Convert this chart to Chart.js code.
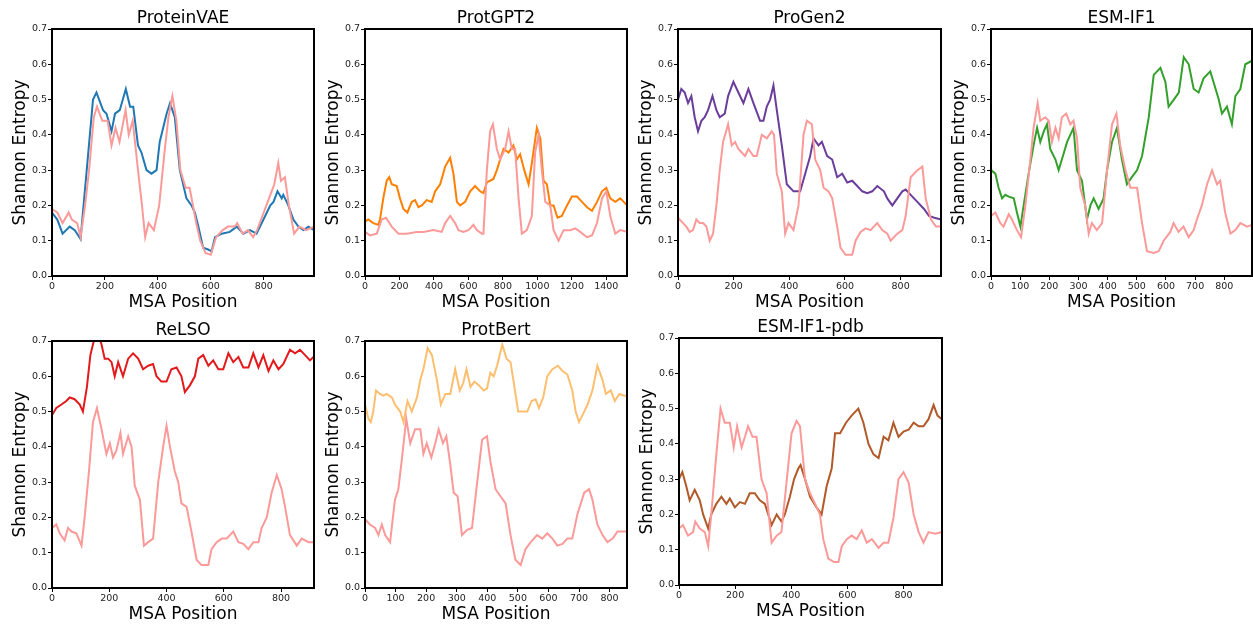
<!DOCTYPE html>
<html>
<head>
<meta charset="utf-8">
<script src="https://cdn.jsdelivr.net/npm/chart.js@4.4.1/dist/chart.umd.min.js"></script>
<style>
  body { margin: 0; background: #fff; }
  #fig { position: relative; width: 1253px; height: 628px; overflow: hidden; background: #fff; }
  #fig canvas { position: absolute; }
</style>
</head>
<body>
<div id="fig"></div>
<script>
// ProteinVAE
const vaePos = [0,20,40,67,86,108,130,155,168,193,206,225,238,256,279,295,307,325,338,357,376,395,407,433,446,464,483,508,527,540,553,571,590,603,616,641,672,698,723,748,773,799,825,837,852,868,874,893,912,931,950,969,990];
const vaeVals = [0.18,0.16,0.12,0.14,0.13,0.105,0.29,0.5,0.52,0.47,0.46,0.41,0.46,0.47,0.53,0.48,0.48,0.37,0.35,0.3,0.29,0.3,0.38,0.46,0.49,0.45,0.3,0.22,0.2,0.18,0.14,0.08,0.075,0.07,0.11,0.12,0.125,0.14,0.12,0.13,0.12,0.16,0.2,0.21,0.24,0.22,0.23,0.2,0.16,0.14,0.13,0.14,0.13];
const vaeRefPos = [0,20,40,63,75,95,108,125,140,158,170,190,210,225,240,255,278,290,305,325,340,352,365,385,405,425,440,455,470,485,505,520,545,560,580,600,620,645,665,690,700,720,740,760,775,795,820,840,855,865,880,895,915,935,960,990];
const vaeRefVals = [0.19,0.18,0.15,0.18,0.16,0.15,0.11,0.2,0.3,0.45,0.48,0.44,0.44,0.37,0.42,0.38,0.47,0.4,0.44,0.3,0.2,0.11,0.15,0.13,0.2,0.35,0.45,0.51,0.44,0.3,0.25,0.25,0.15,0.1,0.065,0.06,0.11,0.13,0.14,0.14,0.15,0.12,0.13,0.11,0.13,0.17,0.22,0.26,0.32,0.27,0.28,0.2,0.12,0.14,0.13,0.14];

// ProtGPT2
const gptPos = [0,19,48,77,87,106,126,141,155,184,203,223,246,271,290,310,329,358,387,407,436,465,494,513,533,552,581,610,639,668,687,707,745,765,784,804,833,861,881,900,924,949,968,997,1017,1036,1055,1075,1094,1117,1142,1172,1200,1230,1259,1288,1317,1346,1375,1400,1423,1452,1481,1501,1520];
const gptVals = [0.155,0.16,0.15,0.145,0.16,0.22,0.27,0.28,0.26,0.255,0.22,0.19,0.18,0.21,0.215,0.195,0.2,0.215,0.21,0.24,0.26,0.31,0.335,0.29,0.21,0.2,0.21,0.24,0.255,0.24,0.235,0.265,0.275,0.3,0.33,0.36,0.35,0.37,0.33,0.345,0.3,0.26,0.32,0.42,0.39,0.27,0.26,0.2,0.2,0.165,0.17,0.2,0.225,0.225,0.21,0.195,0.185,0.21,0.24,0.25,0.22,0.21,0.22,0.21,0.2];
const gptRefPos = [0,29,68,97,122,155,194,242,300,339,397,445,465,494,523,542,571,600,629,649,678,687,707,726,742,765,784,813,833,852,871,891,910,939,968,987,1007,1026,1046,1075,1094,1123,1152,1191,1220,1249,1288,1317,1346,1375,1400,1423,1452,1481,1520];
const gptRefVals = [0.125,0.115,0.12,0.16,0.165,0.14,0.12,0.12,0.125,0.125,0.13,0.125,0.15,0.17,0.15,0.13,0.125,0.13,0.145,0.13,0.12,0.12,0.3,0.41,0.43,0.36,0.33,0.36,0.41,0.36,0.36,0.22,0.12,0.13,0.17,0.35,0.4,0.3,0.21,0.2,0.13,0.1,0.13,0.13,0.135,0.125,0.11,0.115,0.15,0.22,0.24,0.17,0.12,0.13,0.125];

// ProGen2
const pgPos = [0,12,24,36,48,60,72,84,96,108,124,138,150,168,180,199,217,235,253,271,295,307,319,331,343,355,373,391,415,439,457,475,487,505,517,536,554,572,590,608,626,644,662,680,698,716,740,752,770,788,806,818,836,860,884,902,921,945];
const pgVals = [0.5,0.53,0.52,0.49,0.51,0.45,0.41,0.44,0.45,0.47,0.51,0.47,0.45,0.46,0.51,0.55,0.52,0.49,0.53,0.49,0.44,0.44,0.48,0.5,0.54,0.47,0.37,0.26,0.24,0.24,0.29,0.34,0.39,0.37,0.38,0.34,0.33,0.28,0.29,0.265,0.27,0.255,0.24,0.235,0.24,0.255,0.24,0.22,0.2,0.22,0.24,0.245,0.23,0.21,0.19,0.17,0.165,0.16];
const pgRefPos = [0,18,30,42,54,66,78,90,102,114,126,138,150,162,180,193,205,217,229,241,253,271,283,301,319,337,345,355,373,385,397,415,433,451,463,481,493,511,523,541,554,572,584,602,626,638,656,674,692,716,734,752,764,788,806,818,836,860,878,890,909,927,945];
const pgRefVals = [0.165,0.15,0.14,0.125,0.13,0.16,0.15,0.15,0.14,0.1,0.12,0.2,0.3,0.38,0.43,0.37,0.38,0.36,0.35,0.34,0.36,0.34,0.34,0.4,0.39,0.41,0.4,0.29,0.24,0.12,0.15,0.13,0.2,0.4,0.44,0.43,0.33,0.3,0.25,0.24,0.22,0.14,0.08,0.06,0.06,0.1,0.125,0.135,0.13,0.15,0.13,0.12,0.1,0.12,0.13,0.17,0.28,0.3,0.31,0.22,0.16,0.14,0.14];

// ESM-IF1
const esmPos = [0,15,26,38,49,61,78,89,101,112,129,146,158,169,181,192,203,221,232,243,261,272,283,295,312,329,341,352,369,386,398,415,432,449,466,483,501,518,541,558,581,598,609,627,644,661,678,695,712,729,752,763,781,792,809,826,838,855,872,895];
const esmVals = [0.3,0.29,0.25,0.22,0.23,0.225,0.22,0.18,0.14,0.2,0.29,0.37,0.42,0.38,0.41,0.43,0.36,0.33,0.3,0.33,0.38,0.4,0.42,0.3,0.27,0.16,0.2,0.22,0.19,0.22,0.3,0.38,0.42,0.33,0.26,0.28,0.3,0.34,0.45,0.57,0.59,0.55,0.48,0.5,0.52,0.62,0.6,0.53,0.52,0.56,0.58,0.55,0.5,0.46,0.48,0.43,0.51,0.53,0.6,0.61];
const esmRefPos = [0,15,32,43,61,72,89,103,118,135,146,160,169,186,198,209,221,232,243,258,272,283,295,306,323,335,346,363,381,398,415,430,443,461,478,501,518,535,558,575,592,615,626,643,660,678,695,706,723,741,758,775,786,803,821,838,855,878,895];
const esmRefVals = [0.17,0.18,0.15,0.14,0.175,0.16,0.13,0.11,0.2,0.33,0.42,0.49,0.44,0.45,0.44,0.38,0.42,0.39,0.45,0.46,0.43,0.44,0.39,0.25,0.2,0.12,0.15,0.13,0.15,0.3,0.43,0.46,0.37,0.3,0.25,0.25,0.15,0.07,0.065,0.07,0.1,0.125,0.15,0.125,0.14,0.11,0.13,0.16,0.2,0.26,0.3,0.26,0.27,0.18,0.12,0.13,0.15,0.14,0.145];

// ReLSO
const relsoPos = [0,15,33,50,62,79,97,108,122,134,146,161,173,184,196,208,219,231,248,266,283,301,318,336,353,365,382,400,417,435,452,464,482,499,511,528,546,563,581,598,616,633,651,668,686,703,721,738,756,773,791,808,831,849,866,884,901,913];
const relsoVals = [0.49,0.51,0.52,0.53,0.54,0.535,0.52,0.5,0.57,0.66,0.7,0.72,0.69,0.65,0.65,0.64,0.6,0.64,0.6,0.65,0.665,0.65,0.62,0.63,0.635,0.6,0.585,0.585,0.62,0.625,0.6,0.555,0.575,0.6,0.65,0.66,0.63,0.645,0.62,0.62,0.665,0.64,0.655,0.625,0.625,0.665,0.625,0.66,0.615,0.645,0.62,0.635,0.675,0.665,0.675,0.66,0.645,0.655];
const relsoRefPos = [0,15,27,44,56,68,85,103,114,129,143,157,173,190,202,213,225,239,248,266,278,289,307,321,336,353,371,388,400,412,429,441,452,470,487,505,522,546,557,575,593,610,633,651,668,686,703,721,732,750,767,785,802,814,831,855,872,896,913];
const relsoRefVals = [0.17,0.18,0.155,0.135,0.17,0.16,0.155,0.12,0.2,0.33,0.47,0.51,0.45,0.38,0.41,0.37,0.39,0.44,0.38,0.43,0.4,0.29,0.25,0.12,0.13,0.14,0.3,0.4,0.46,0.4,0.33,0.3,0.24,0.23,0.16,0.08,0.065,0.065,0.11,0.13,0.14,0.14,0.16,0.13,0.125,0.11,0.13,0.13,0.17,0.2,0.27,0.32,0.28,0.23,0.15,0.12,0.14,0.13,0.13];

// ProtBert
const bertPos = [0,11,19,27,36,49,60,71,88,98,115,126,139,153,170,181,191,205,219,235,248,263,279,295,310,321,332,345,358,372,388,399,410,421,432,449,463,476,487,501,514,531,545,558,569,583,596,613,631,646,662,678,689,700,717,728,744,760,777,788,804,817,832,848,859];
const bertVals = [0.52,0.48,0.47,0.5,0.56,0.55,0.545,0.55,0.54,0.52,0.5,0.47,0.53,0.5,0.54,0.59,0.62,0.68,0.66,0.59,0.52,0.55,0.55,0.62,0.56,0.58,0.62,0.57,0.585,0.575,0.56,0.565,0.61,0.6,0.63,0.69,0.65,0.64,0.58,0.5,0.5,0.5,0.53,0.535,0.51,0.54,0.6,0.62,0.63,0.615,0.605,0.56,0.5,0.47,0.5,0.52,0.56,0.63,0.59,0.55,0.56,0.53,0.55,0.545,0.545];
const bertRefPos = [0,16,33,44,55,66,82,98,109,120,135,148,164,181,191,202,217,230,241,255,266,279,290,303,317,334,350,367,383,399,410,427,443,460,476,492,509,525,542,563,580,596,613,629,646,662,678,695,717,733,744,760,777,793,810,826,842,859];
const bertRefVals = [0.195,0.18,0.17,0.15,0.18,0.15,0.13,0.25,0.28,0.36,0.48,0.41,0.45,0.45,0.38,0.41,0.37,0.41,0.45,0.41,0.43,0.35,0.27,0.26,0.15,0.165,0.17,0.3,0.42,0.43,0.36,0.28,0.26,0.24,0.15,0.08,0.065,0.11,0.13,0.15,0.14,0.155,0.14,0.12,0.125,0.14,0.14,0.21,0.27,0.28,0.25,0.18,0.15,0.13,0.14,0.16,0.16,0.16];

// ESM-IF1-pdb
const pdbPos = [0,12,26,38,56,74,86,104,115,133,151,169,181,199,217,235,252,270,288,306,318,330,348,365,377,395,410,425,433,449,467,490,508,526,544,556,574,595,615,639,657,675,693,711,729,746,764,782,800,818,836,854,871,889,907,921,937];
const pdbVals = [0.3,0.32,0.28,0.24,0.27,0.24,0.2,0.16,0.2,0.23,0.25,0.23,0.245,0.22,0.235,0.23,0.26,0.26,0.24,0.23,0.2,0.17,0.2,0.18,0.2,0.25,0.3,0.33,0.34,0.3,0.25,0.22,0.2,0.28,0.33,0.43,0.43,0.46,0.48,0.5,0.46,0.4,0.37,0.36,0.42,0.41,0.46,0.42,0.435,0.44,0.46,0.45,0.45,0.47,0.51,0.48,0.47];
const pdbRefPos = [0,14,32,50,58,74,92,104,115,133,148,163,181,195,207,223,235,246,262,276,294,312,330,348,365,383,401,419,431,449,467,485,502,514,532,552,568,580,598,615,633,651,669,687,711,729,746,764,782,800,818,836,854,871,889,913,937];
const pdbRefVals = [0.16,0.17,0.14,0.15,0.18,0.16,0.15,0.11,0.2,0.37,0.5,0.46,0.46,0.39,0.45,0.39,0.42,0.45,0.42,0.42,0.3,0.26,0.12,0.14,0.15,0.29,0.43,0.465,0.45,0.3,0.26,0.23,0.2,0.13,0.075,0.065,0.065,0.11,0.13,0.14,0.13,0.155,0.12,0.13,0.105,0.12,0.12,0.19,0.3,0.32,0.29,0.2,0.15,0.12,0.15,0.145,0.15];

const refColor = '#fb9a99';
const fontFamily = "'DejaVu Sans', sans-serif";

// plot box of each panel: [left, top, right, bottom]
const panels = [
    { title: 'ProteinVAE', color: '#1f78b4', pos: vaePos, vals: vaeVals, refPos: vaeRefPos, refVals: vaeRefVals, xMax: 990, xTicks: [0,200,400,600,800], box: [52, 29, 314, 276] },
    { title: 'ProtGPT2', color: '#ff7f00', pos: gptPos, vals: gptVals, refPos: gptRefPos, refVals: gptRefVals, xMax: 1520, xTicks: [0,200,400,600,800,1000,1200,1400], box: [365, 29, 627, 276] },
    { title: 'ProGen2', color: '#6a3d9a', pos: pgPos, vals: pgVals, refPos: pgRefPos, refVals: pgRefVals, xMax: 945, xTicks: [0,200,400,600,800], box: [678, 29, 941, 276] },
    { title: 'ESM-IF1', color: '#33a02c', pos: esmPos, vals: esmVals, refPos: esmRefPos, refVals: esmRefVals, xMax: 895, xTicks: [0,100,200,300,400,500,600,700,800], box: [991, 29, 1252, 276] },
    { title: 'ReLSO', color: '#e31a1c', pos: relsoPos, vals: relsoVals, refPos: relsoRefPos, refVals: relsoRefVals, xMax: 915, xTicks: [0,200,400,600,800], box: [52, 341, 314, 588] },
    { title: 'ProtBert', color: '#fdbf6f', pos: bertPos, vals: bertVals, refPos: bertRefPos, refVals: bertRefVals, xMax: 857, xTicks: [0,100,200,300,400,500,600,700,800], box: [365, 341, 627, 588] },
    { title: 'ESM-IF1-pdb', color: '#b15928', pos: pdbPos, vals: pdbVals, refPos: pdbRefPos, refVals: pdbRefVals, xMax: 937, xTicks: [0,200,400,600,800], box: [679, 338, 942, 585] }
];

const framePlugin = {
    id: 'frame',
    afterDatasetsDraw(chart) {
        const { ctx, chartArea: a } = chart;
        ctx.save();
        ctx.strokeStyle = '#000';
        ctx.lineWidth = 2;
        ctx.strokeRect(a.left, a.top, a.right - a.left, a.bottom - a.top);
        ctx.restore();
    }
};

const toPoints = (xs, ys) => xs.map((x, i) => ({ x: x, y: ys[i] }));

const fig = document.getElementById('fig');
const yAxisW = 52, topH = 29, xAxisH = 38, padR = 3;

panels.forEach(p => {
    const [l, t, r, b] = p.box;
    const canvas = document.createElement('canvas');
    canvas.width = r - l + yAxisW + padR;
    canvas.height = b - t + topH + xAxisH;
    canvas.style.left = (l - yAxisW) + 'px';
    canvas.style.top = (t - topH) + 'px';
    fig.appendChild(canvas);

    new Chart(canvas.getContext('2d'), {
        type: 'line',
        data: {
            datasets: [{
                data: toPoints(p.refPos, p.refVals),
                borderColor: refColor,
                borderWidth: 2
            }, {
                data: toPoints(p.pos, p.vals),
                borderColor: p.color,
                borderWidth: 2
            }]
        },
        options: {
            responsive: false,
            animation: false,
            devicePixelRatio: 1,
            layout: { padding: { left: 0, right: padR, top: 0, bottom: 0 } },
            elements: { point: { radius: 0 }, line: { tension: 0 } },
            plugins: {
                legend: { display: false },
                tooltip: { enabled: false },
                title: {
                    display: true,
                    fullSize: false, // centre over the plot, not the canvas
                    text: p.title,
                    color: '#000',
                    font: { family: fontFamily, size: 17, weight: 'normal', lineHeight: 1.2 },
                    padding: { top: 8.6, bottom: 0 }
                }
            },
            scales: {
                x: {
                    type: 'linear',
                    min: 0,
                    max: p.xMax,
                    afterBuildTicks: axis => { axis.ticks = p.xTicks.map(v => ({ value: v })); },
                    afterFit: axis => { axis.height = xAxisH; },
                    grid: { drawOnChartArea: false, drawTicks: true, tickLength: 4, color: '#000', lineWidth: 1 },
                    border: { display: false },
                    ticks: {
                        autoSkip: false,
                        maxRotation: 0,
                        padding: 1,
                        color: '#222',
                        font: { family: fontFamily, size: 9.5 },
                        callback: v => String(v)
                    },
                    title: {
                        display: true,
                        text: 'MSA Position',
                        color: '#000',
                        font: { family: fontFamily, size: 17 },
                        padding: { top: 0, bottom: 1.2 }
                    }
                },
                y: {
                    min: 0,
                    max: 0.7,
                    afterFit: axis => { axis.width = yAxisW; },
                    grid: { drawOnChartArea: false, drawTicks: true, tickLength: 4, color: '#000', lineWidth: 1 },
                    border: { display: false },
                    ticks: {
                        stepSize: 0.1,
                        padding: 1,
                        color: '#222',
                        font: { family: fontFamily, size: 9.5 },
                        callback: v => v.toFixed(1)
                    },
                    title: {
                        display: true,
                        text: 'Shannon Entropy',
                        color: '#000',
                        font: { family: fontFamily, size: 17 },
                        padding: { top: 10.5, bottom: 0 }
                    }
                }
            }
        },
        plugins: [framePlugin]
    });
});
</script>
</body>
</html>
